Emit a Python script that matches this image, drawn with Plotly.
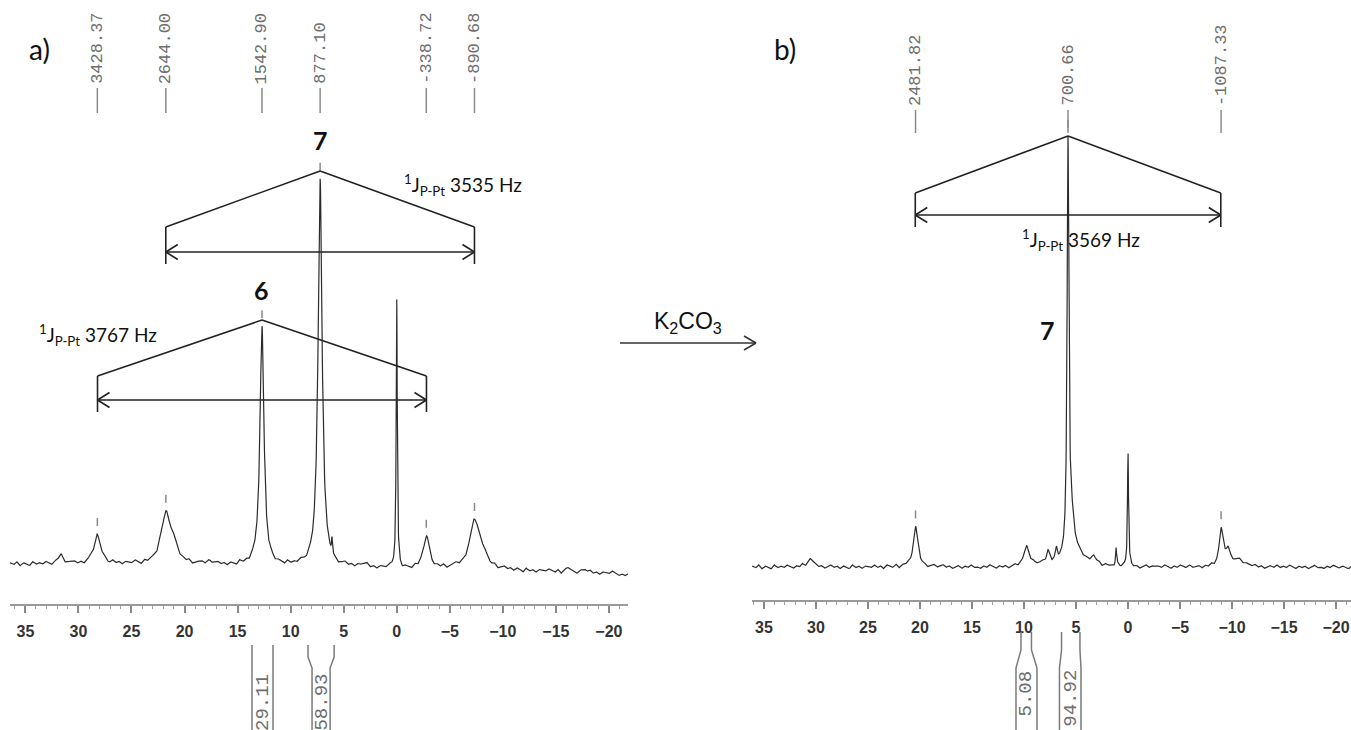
import numpy as np
import plotly.graph_objects as go

SF_MHZ = 121.5  # 31P observe frequency, Hz per ppm

# ---------------- panel a) ----------------
a_pick_hz = [3428.37, 2644.00, 1542.90, 877.10, -338.72, -890.68]
a_pick_txt = ["3428.37", "2644.00", "1542.90", "877.10", "-338.72", "-890.68"]
a_peak_ppm = [31.7, 28.22, 21.76, 21.0, 17.6, 12.70, 7.22, 6.10, 3.1, 0.0, -2.79, -7.33, -8.1, -16.1, -17.8]
a_peak_h = [8, 29, 50, 12, 4, 236, 388, 16, 5, 272, 31, 47, 10, 5, 4]
a_peak_w = [0.7, 0.75, 1.1, 0.9, 0.5, 0.45, 0.45, 0.10, 0.5, 0.12, 0.7, 1.1, 1.0, 0.4, 0.5]
a_base_start, a_base_step = 36.4, -0.3
a_base = [7, 5, 8, 4, 7, 6, 4, 8, 5, 7,
          5, 8, 6, 4, 7, 5, 8, 4, 6, 7,
          8, 5, 7, 4, 6, 8, 5, 7, 4, 7,
          6, 4, 8, 5, 7, 4, 7, 6, 5, 8,
          6, 3, 7, 4, 6, 5, 3, 7, 4, 6,
          4, 7, 5, 3, 6, 4, 7, 3, 5, 6,
          7, 4, 6, 3, 5, 7, 4, 6, 3, 6,
          5, 3, 7, 4, 6, 3, 6, 5, 4, 7,
          5, 3, 6, 2, 5, 4, 2, 6, 3, 5,
          3, 6, 4, 2, 5, 3, 6, 2, 4, 5,
          5, 2, 4, 1, 3, 5, 2, 4, 1, 4,
          2, 0, 4, 1, 3, 0, 3, 2, 1, 4,
          2, 0, 3, -1, 2, 1, -1, 3, 0, 2,
          0, 3, 1, -1, 2, 0, 3, -1, 1, 2,
          3, 0, 2, -1, 1, 3, 0, 2, -1, 2,
          1, -1, 2, -2, 0, 2, -1, 1, -2, 1,
          0, -3, 1, -2, 0, -3, 0, -1, -2, 1,
          -1, -3, 0, -4, -1, -3, -1, -2, -4, -1,
          -2, -5, -1, -4, -2, -5, -2, -3, -4, -1,
          -3, -6, -4, -6, -4]
a_J_hz = [3535, 3767]
a_J_center_hz = [877.10, 1542.90]
a_J_names = ["7", "6"]
a_int_vals = ["29.11", "58.93"]
a_int_upper = [(13.64, 11.66), (8.36, 5.90)]
a_int_lower = [(13.64, 11.66), (7.98, 6.28)]

# ---------------- panel b) ----------------
b_pick_hz = [2481.82, 700.66, -1087.33]
b_pick_txt = ["2481.82", "700.66", "-1087.33"]
b_peak_ppm = [30.6, 20.43, 9.77, 7.7, 6.88, 5.77, 5.45, 4.8, 3.3, 1.15, 0.0, -8.95, -9.6, -10.6]
b_peak_h = [8, 40, 19, 12, 11, 405, 40, 9, 7, 18, 115, 35, 14, 5]
b_peak_w = [0.7, 0.55, 0.6, 0.35, 0.2, 0.2, 0.6, 1.5, 0.5, 0.12, 0.12, 0.45, 0.5, 1.2]
b_base_start, b_base_step = 36.1, -0.3
b_base = [1, -1, 2, -2, 1, 0, -2, 2, -1, 1,
          -1, 2, 0, -2, 1, -1, 2, -2, 0, 1,
          2, -1, 1, -2, 0, 2, -1, 1, -2, 1,
          0, -2, 2, -1, 1, -2, 1, 0, -1, 2,
          -1, 1, -2, 2, 0, -1, 2, -2, 1, 0,
          1, -2, 0, 2, -1, 1, -2, 0, 2, -1,
          0, 2, -1, 1, -2, 0, 1, -2, 1, -1,
          2, -1, 0, -2, 1, -1, 2, 0, -2, 1,
          -1, 1, -2, 0, 2, -1, 1, 0, 2, 1,
          3, 1, 2, 4, 1, 3, 1, 4, 2, 3,
          2, 4, 1, 3, 2, 4, 1, 3, 1, 2,
          1, 3, -1, 2, 0, 1, -1, 2, -1, 1,
          0, 2, -1, 1, -2, 0, 2, -1, 1, 0,
          1, -1, 2, 0, -2, 1, -1, 2, 0, -1,
          2, -1, 0, 1, -2, 1, -1, 2, -1, 0,
          2, 3, 1, 3, 1, 2, 3, 0, 2, 1,
          0, 2, -1, 1, -2, 0, 1, -1, 2, -1,
          1, -1, 2, 0, -2, 1, -1, 1, -2, 0,
          2, -1, 0, -2, 1, -1, 2, 0, -1, 1,
          0, -2, 1]
b_J_hz = [3569]
b_J_center_hz = [700.66]
b_J_names = ["7"]
b_int_vals = ["5.08", "94.92"]
b_int_upper = [(10.29, 9.28), (6.39, 4.62)]
b_int_lower = [(10.77, 8.75), (6.59, 4.52)]

# ---------------- layout constants ----------------
W, H = 1351, 730
A_DOM = (10, 628)
A_RANGE = (36.45, -21.8)
A_YR = (-34, 570)
A_AXIS_PX = 604
B_DOM = (752, 1351)
B_RANGE = (36.15, -21.44)
B_YR = (-33, 567)
B_AXIS_PX = 600

MONO = "Liberation Mono"
CAL = "Lato"
GRAY = "#8a8a8a"
BLACK = "#222222"


def py(p):
    return 1 - p / H


def spectrum(x, base_start, base_step, base, ppm, h, w):
    bx = base_start + base_step * np.arange(len(base))
    y = np.interp(x, bx[::-1], np.array(base, float)[::-1])
    for c, hh, ww in zip(ppm, h, w):
        y = y + hh / (1 + ((x - c) / (ww / 2)) ** 2)
    return y


fig = go.Figure()


def add_segments(segs, xa, ya, color, width):
    xs, ys = [], []
    for (x0, y0, x1, y1) in segs:
        xs += [x0, x1, None]
        ys += [y0, y1, None]
    fig.add_trace(go.Scatter(x=xs, y=ys, mode="lines", line=dict(color=color, width=width),
                             xaxis=xa, yaxis=ya, hoverinfo="skip", showlegend=False))


annotations = []
shapes = []


def panel(xa, ya, rng, dom, pick_hz, pick_txt, ppm, h, w, base_start, base_step, base,
          J_hz, J_center_hz, J_names, bracket_levels, J_text_pos, name_pos,
          label_line, label_bottom, int_vals, int_up, int_lo, int_px, int_txt_px):
    x = np.linspace(rng[0], rng[1], 3000)
    y = spectrum(x, base_start, base_step, base, ppm, h, w)
    fig.add_trace(go.Scatter(x=x, y=y, mode="lines", line=dict(color="#2b2b2b", width=1.2),
                             xaxis=xa, yaxis=ya, hoverinfo="skip", showlegend=False))
    px_per_ppm = (dom[1] - dom[0]) / (rng[0] - rng[1])
    gray, black = [], []
    for hz, txt in zip(pick_hz, pick_txt):
        p = hz / SF_MHZ
        gray.append((p, label_line[0], p, label_line[1]))
        annotations.append(dict(x=p, y=label_bottom, xref=xa, yref=ya, text=txt, textangle=-90,
                                showarrow=False, xanchor="center", yanchor="bottom",
                                font=dict(family=MONO, size=17, color="#6e6e6e")))
        # peak-pick marker just above the peak top
        top = y[np.abs(x - p) < 0.3].max()
        gray.append((p, top + 8, p, top + 16))
    for J, chz, nm, lv, tp, npos in zip(J_hz, J_center_hz, J_names, bracket_levels, J_text_pos, name_pos):
        c = chz / SF_MHZ
        L = c + J / SF_MHZ / 2
        R = c - J / SF_MHZ / 2
        apex, corner, leg, arr = lv
        black += [(L, corner, c, apex), (c, apex, R, corner),
                  (L, corner, L, leg), (R, corner, R, leg), (L, arr, R, arr)]
        dx = 12 / px_per_ppm
        dy = 7.5
        black += [(L - dx, arr + dy, L, arr), (L, arr, L - dx, arr - dy),
                  (R + dx, arr + dy, R, arr), (R, arr, R + dx, arr - dy)]
        annotations.append(dict(x=tp[0], y=tp[1], xref=xa, yref=ya, showarrow=False,
                                xanchor="left", yanchor="middle",
                                text="<sup>1</sup>J<sub>P-Pt</sub> %d Hz" % J,
                                font=dict(family=CAL, size=19, color="#111")))
        annotations.append(dict(x=c + npos[0], y=npos[1], xref=xa, yref=ya, showarrow=False,
                                xanchor="center", yanchor="middle", text="<b>%s</b>" % nm,
                                font=dict(family=CAL, size=25, color="#111")))
    add_segments(gray, xa, ya, GRAY, 1.5)
    add_segments(black, xa, ya, BLACK, 1.6)
    # integrals below the axis
    t0, k1, k2, t1 = [py(v) for v in int_px]
    for val, up, lo in zip(int_vals, int_up, int_lo):
        for side in (0, 1):
            path = "M %.3f,%.4f L %.3f,%.4f L %.3f,%.4f L %.3f,%.4f" % (
                up[side], t0, up[side], k1, lo[side], k2, lo[side], t1)
            shapes.append(dict(type="path", path=path, xref=xa, yref="paper",
                               line=dict(color="#7a7a7a", width=1.5)))
        annotations.append(dict(x=(lo[0] + lo[1]) / 2, y=py(int_txt_px), xref=xa, yref="paper",
                                text=val, textangle=-90, showarrow=False, xanchor="center",
                                yanchor="top", font=dict(family=MONO, size=19, color="#6e6e6e")))


panel("x", "y", A_RANGE, A_DOM, a_pick_hz, a_pick_txt, a_peak_ppm, a_peak_h, a_peak_w,
      a_base_start, a_base_step, a_base, a_J_hz, a_J_center_hz, a_J_names,
      bracket_levels=[(399, 343, 306, 318), (250, 194, 158, 170)],
      J_text_pos=[(-0.5, 385), (33.9, 235)],
      name_pos=[(0.0, 430), (0.0, 280)],
      label_line=(457, 482), label_bottom=484,
      int_vals=a_int_vals, int_up=a_int_upper, int_lo=a_int_lower,
      int_px=(645, 657, 668, 735), int_txt_px=672)

panel("x2", "y2", B_RANGE, B_DOM, b_pick_hz, b_pick_txt, b_peak_ppm, b_peak_h, b_peak_w,
      b_base_start, b_base_step, b_base, b_J_hz, b_J_center_hz, b_J_names,
      bracket_levels=[(431, 374, 340, 352)],
      J_text_pos=[(10.4, 327)],
      name_pos=[(2.0, 237)],
      label_line=(434, 457), label_bottom=459,
      int_vals=b_int_vals, int_up=b_int_upper, int_lo=b_int_lower,
      int_px=(632, 650, 668, 735), int_txt_px=668)

# panel letters and reaction arrow
annotations += [
    dict(x=27 / W, y=py(30), xref="paper", yref="paper", text="a)", showarrow=False,
         font=dict(family=CAL, size=28, color="#111")),
    dict(x=785 / W, y=py(30), xref="paper", yref="paper", text="b)", showarrow=False,
         font=dict(family=CAL, size=28, color="#111")),
    dict(x=688 / W, y=py(322), xref="paper", yref="paper", text="K<sub>2</sub>CO<sub>3</sub>",
         showarrow=False, font=dict(family="Liberation Sans", size=23, color="#111")),
]
for (x0, y0, x1, y1) in [(620, 343, 756, 343), (744, 336, 756, 343), (744, 350, 756, 343)]:
    shapes.append(dict(type="line", xref="paper", yref="paper", x0=x0 / W, y0=py(y0),
                       x1=x1 / W, y1=py(y1), line=dict(color="#333", width=1.5)))


def xaxis(dom, rng, anchor):
    return dict(domain=[dom[0] / W, dom[1] / W], range=list(rng), anchor=anchor,
                showline=True, linecolor="#9a9a9a", linewidth=2, ticks="outside",
                ticklen=7, tickwidth=1.5, tickcolor="#8a8a8a", dtick=5, tick0=0,
                minor=dict(dtick=1, tick0=0, ticks="outside", ticklen=3,
                           tickcolor="#a0a0a0", tickwidth=1, showgrid=False),
                showgrid=False, zeroline=False, ticklabelstandoff=5,
                tickfont=dict(family="Liberation Sans", size=16, color="#333", weight="bold"))


def yaxis(axis_px, yr, anchor):
    return dict(domain=[py(axis_px), 1], range=list(yr), anchor=anchor, visible=False,
                showgrid=False, zeroline=False)


fig.update_layout(
    width=W, height=H, margin=dict(l=0, r=0, t=0, b=0),
    paper_bgcolor="white", plot_bgcolor="white", showlegend=False,
    xaxis=xaxis(A_DOM, A_RANGE, "y"), yaxis=yaxis(A_AXIS_PX, A_YR, "x"),
    xaxis2=xaxis(B_DOM, B_RANGE, "y2"), yaxis2=yaxis(B_AXIS_PX, B_YR, "x2"),
    annotations=annotations, shapes=shapes,
)

fig.write_html("out.html")
